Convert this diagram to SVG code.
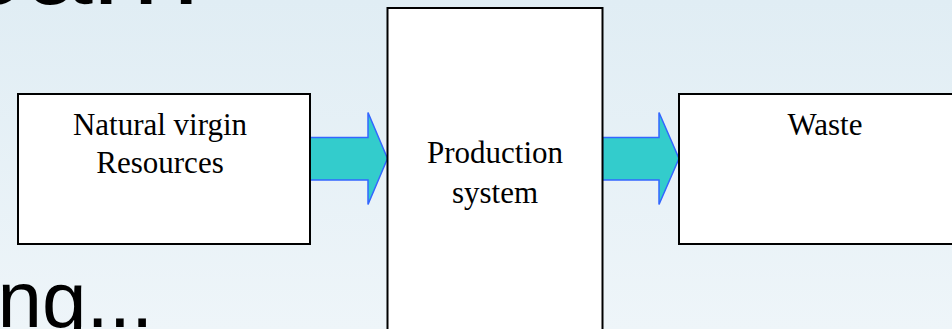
<svg xmlns="http://www.w3.org/2000/svg" width="952" height="329" viewBox="0 0 952 329">
  <defs>
    <linearGradient id="bg" x1="0" y1="0" x2="0" y2="1">
      <stop offset="0" stop-color="#E0EDF4"/>
      <stop offset="1" stop-color="#EEF5F9"/>
    </linearGradient>
    <style>
      .box { fill: #FFFFFF; stroke: #000000; stroke-width: 2; }
      .label { font-family: "Liberation Serif", "Times New Roman", serif; font-size: 31px; fill: #000000; text-anchor: middle; }
      .big { font-family: "Liberation Sans", Arial, sans-serif; fill: #000000; }
      .flow { fill: #33CCCC; stroke: #3366FF; stroke-width: 1.5; stroke-linejoin: miter; }
    </style>
  </defs>

  <!-- slide background -->
  <rect x="0" y="0" width="952" height="329" fill="url(#bg)"/>

  <!-- slide body text behind the diagram -->
  <text class="big" x="-41" y="4" font-size="120">earn</text>
  <text class="big" x="-2.5" y="327" font-size="80">ng...</text>

  <!-- connectors -->
  <g id="connectors">
    <polygon class="flow" points="310,137.5 368,137.5 368,112.5 387.5,158.5 368,204.5 368,180 310,180"/>
    <polygon class="flow" points="602.5,137.5 659,137.5 659,112.5 679,158.5 659,204.5 659,180 602.5,180"/>
  </g>

  <!-- nodes -->
  <g id="resources">
    <rect class="box" x="18" y="94" width="292" height="150"/>
    <text class="label" x="160" y="135">Natural virgin</text>
    <text class="label" x="160" y="173">Resources</text>
  </g>

  <g id="production">
    <rect class="box" x="387.5" y="8" width="215" height="340"/>
    <text class="label" x="495" y="163">Production</text>
    <text class="label" x="495" y="203">system</text>
  </g>

  <g id="waste">
    <rect class="box" x="679" y="94" width="292" height="150"/>
    <text class="label" x="825" y="135">Waste</text>
  </g>
</svg>
